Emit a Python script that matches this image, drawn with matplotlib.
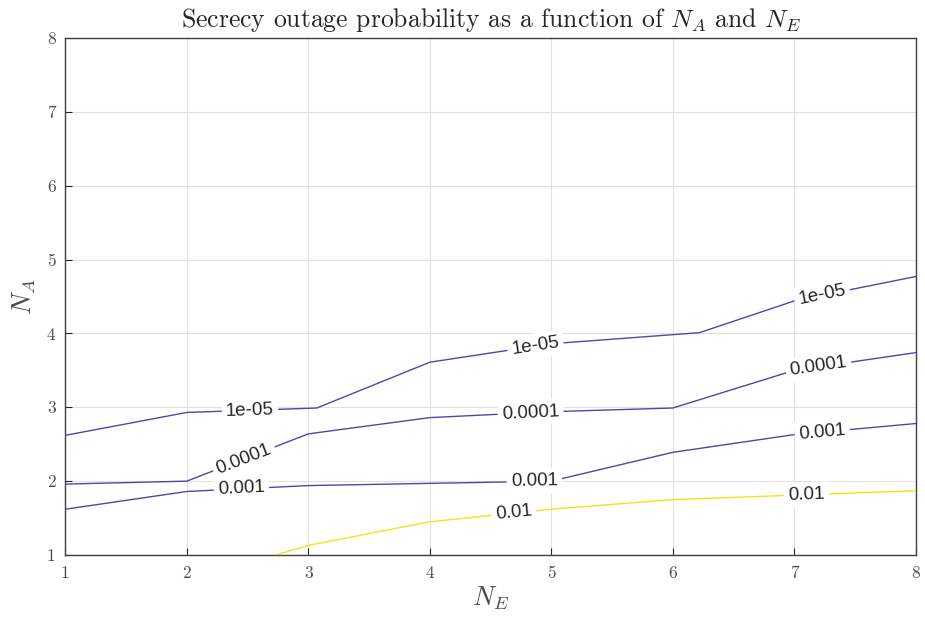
import numpy as np
import matplotlib
matplotlib.use("Agg")
import matplotlib.pyplot as plt

plt.rcParams['font.family'] = 'serif'
plt.rcParams['font.serif'] = ['cmr10']
plt.rcParams['mathtext.fontset'] = 'cm'
plt.rcParams['axes.unicode_minus'] = False

# contour levels of the secrecy outage probability
levels = ['1e-05', '0.0001', '0.001', '0.01']

# contour paths, N_E on x, N_A on y
ne_1e5 = [1, 2, 3.07, 4, 5, 6.22, 7, 8]
na_1e5 = [2.62, 2.93, 2.99, 3.61, 3.86, 4.01, 4.44, 4.77]

ne_1e4 = [1, 2, 3, 4, 5, 6, 7, 8]
na_1e4 = [1.96, 2.0, 2.64, 2.86, 2.94, 2.99, 3.50, 3.74]

ne_1e3 = [1, 2, 3, 4, 5, 6, 7, 8]
na_1e3 = [1.62, 1.86, 1.94, 1.97, 2.0, 2.39, 2.63, 2.78]

ne_1e2 = [2.73, 3, 4, 5, 6, 7, 8]
na_1e2 = [1.0, 1.13, 1.45, 1.62, 1.75, 1.81, 1.87]

# where the inline labels sit along each contour (N_E)
lab_1e5 = [2.52, 4.87, 7.23]
lab_1e4 = [2.47, 4.83, 7.20]
lab_1e3 = [2.45, 4.86, 7.23]
lab_1e2 = [4.69, 7.10]

purple = '#5543ad'
yellow = '#f2e41a'

contours = [
    (ne_1e5, na_1e5, lab_1e5, levels[0], purple),
    (ne_1e4, na_1e4, lab_1e4, levels[1], purple),
    (ne_1e3, na_1e3, lab_1e3, levels[2], purple),
    (ne_1e2, na_1e2, lab_1e2, levels[3], yellow),
]

fig = plt.figure(figsize=(9.25, 6.22), dpi=100)
ax = fig.add_axes([0.0706, 0.1077, 0.9194, 0.8313])
ax.set_xlim(1, 8)
ax.set_ylim(1, 8)

ax.set_xticks(range(1, 9))
ax.set_yticks(range(1, 9))
ax.set_xticklabels([str(i) for i in range(1, 9)])
ax.set_yticklabels([str(i) for i in range(1, 9)])
ax.tick_params(direction='in', length=5, width=0.8, colors='#262626',
               labelsize=12.5, labelcolor='#4d4d4d')
ax.tick_params(axis='x', pad=8)
ax.tick_params(axis='y', pad=7)
ax.grid(True, color='#e0e0e0', linewidth=0.8)
ax.set_axisbelow(True)
for s in ax.spines.values():
    s.set_color('#404040')
    s.set_linewidth(1.0)

ax.set_xlabel('$N_E$', fontsize=19, color='#4d4d4d', labelpad=2)
ax.set_ylabel('$N_A$', fontsize=19, color='#4d4d4d', labelpad=6)
ax.set_title('Secrecy outage probability as a function of $N_A$ and $N_E$',
             fontsize=18.5, color='#262626', pad=8)


def label_on_line(xs, ys, xl, text):
    xs = np.asarray(xs, float)
    ys = np.asarray(ys, float)
    yl = np.interp(xl, xs, ys)
    i = int(np.clip(np.searchsorted(xs, xl) - 1, 0, len(xs) - 2))
    p0 = ax.transData.transform((xs[i], ys[i]))
    p1 = ax.transData.transform((xs[i + 1], ys[i + 1]))
    ang = np.degrees(np.arctan2(p1[1] - p0[1], p1[0] - p0[0]))
    ax.text(xl, yl, text, rotation=ang, rotation_mode='anchor',
            ha='center', va='center', fontsize=13.5, color='#262626',
            family=['Liberation Sans', 'DejaVu Sans'], zorder=4,
            bbox=dict(boxstyle='square,pad=0.22', fc='white', ec='none'))


for xs, ys, labs, txt, col in contours:
    ax.plot(xs, ys, color=col, linewidth=1.0, zorder=3, clip_on=True)
    for xl in labs:
        label_on_line(xs, ys, xl, txt)

fig.savefig('out.png', dpi=100)
